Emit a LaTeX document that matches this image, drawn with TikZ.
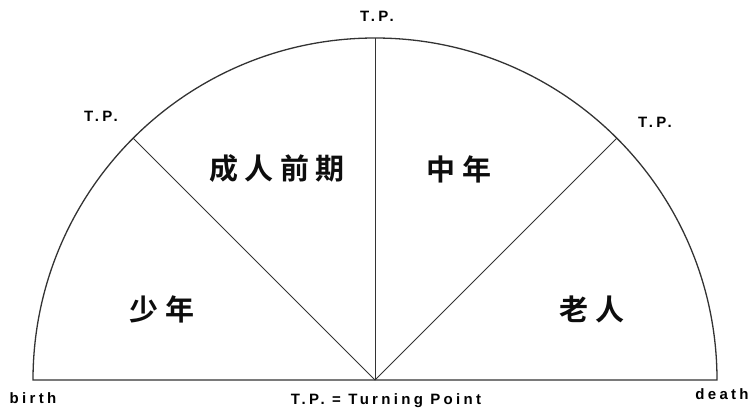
\documentclass[tikz,border=0pt]{standalone}
\usepackage{fontspec}
\newfontfamily\latlab[LetterSpace=22]{Liberation Sans Bold}
\newfontfamily\cjklab[LetterSpace=22]{Noto Sans CJK SC Bold}
\begin{document}
\begin{tikzpicture}[x=1pt,y=-1pt,
  lab/.style={font=\latlab\fontsize{15}{16}\selectfont, inner sep=0pt, text=black},
  stage/.style={font=\cjklab\fontsize{29}{31}\selectfont, inner sep=0pt, text=black!95},
  rim/.style={draw=black!80, line width=1.3pt},
  spoke/.style={draw=black!80, line width=1pt}]
\useasboundingbox (0,0) rectangle (751,410);
\coordinate (O) at (375,380);
\coordinate (L) at (33,380);
\coordinate (R) at (717,380);
% arc and base
\draw[rim] (L) arc[start angle=180, end angle=0, radius=342pt] -- (O) -- cycle;
\coordinate (A) at (133,138);
\coordinate (B) at (617,138);
\coordinate (C) at (375,38);
\draw[spoke] (O) -- (A);
\draw[spoke] (O) -- (C);
\draw[spoke] (O) -- (B);
% labels
\node[lab] (tpl) at (101,116) {T.P.};
\node[lab] (tpt) at (377,16) {T.P.};
\node[lab] (tpr) at (655,122) {T.P.};
\node[lab] (birth) at (33,398) {birth};
\node[lab] (death) at (722,394) {death};
\node[lab] (legend) at (386,401) {T.P. = Turning Point};
\node[stage] (s1) at (162,309) {少年};
\node[stage] (s2) at (277,169) {成人前期};
\node[stage] (s3) at (459,169) {中年};
\node[stage] (s4) at (592,309) {老人};
\end{tikzpicture}
\end{document}
